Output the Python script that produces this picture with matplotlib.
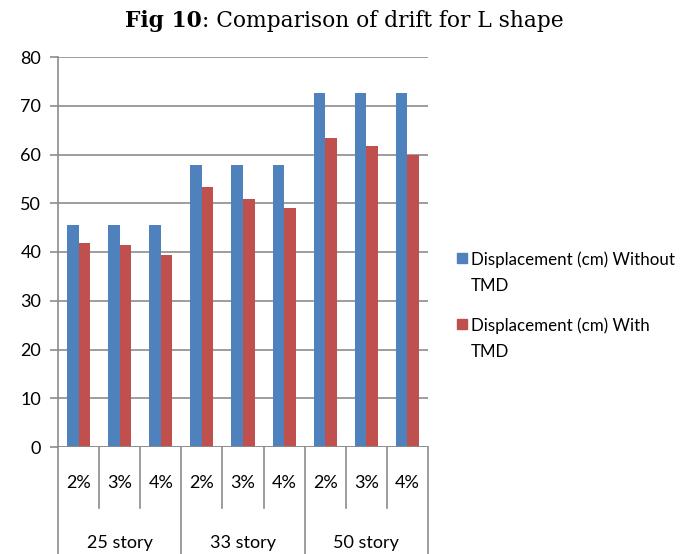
import numpy as np
import matplotlib.pyplot as plt
from matplotlib.patches import Rectangle
from matplotlib.transforms import blended_transform_factory

# drift values (cm) per story group / damping ratio
groups = ["25 story", "33 story", "50 story"]
ratios = ["2%", "3%", "4%"]
without_tmd = [45.5, 45.5, 45.5, 57.8, 57.8, 57.8, 72.7, 72.7, 72.7]
with_tmd = [41.8, 41.5, 39.4, 53.4, 50.9, 49.1, 63.3, 61.7, 60.0]
series_names = ["Displacement (cm) Without\nTMD", "Displacement (cm) With\nTMD"]
colors = ["#4F81BD", "#C0504D"]
grid_col = "#8C8C8C"
font = ["Lato", "DejaVu Sans"]
W, H = 689, 554

fig = plt.figure(figsize=(W / 100, H / 100), dpi=100)
ax = fig.add_axes([58 / W, 1 - 447 / H, 370 / W, 390 / H])

n = len(without_tmd)
x = np.arange(n)
w = 0.28
ax.bar(x - w / 2, without_tmd, w, color=colors[0], zorder=3)
ax.bar(x + w / 2, with_tmd, w, color=colors[1], zorder=3)

ax.set_xlim(-0.5, n - 0.5)
ax.set_ylim(0, 80)
ax.set_yticks(np.arange(0, 81, 10))
ax.yaxis.grid(True, color=grid_col, linewidth=1.2)
ax.set_axisbelow(True)
for s in ["top", "right", "bottom"]:
    ax.spines[s].set_visible(False)
ax.spines["left"].set_color(grid_col)
ax.spines["left"].set_linewidth(1.2)
ax.axhline(0, color=grid_col, linewidth=1.2, zorder=4)
ax.tick_params(axis="y", length=6, width=1.2, color=grid_col, pad=6, labelsize=13)
ax.set_xticks([])
for lbl in ax.get_yticklabels():
    lbl.set_family(font)

# two-level category axis below the plot
trans = blended_transform_factory(ax.transData, ax.transAxes)
for i in range(n):
    ax.text(x[i], -0.092, ratios[i % 3], transform=trans, ha="center", va="center",
            fontsize=13, family=font)
for b in range(n + 1):
    bottom = -0.30 if b % 3 == 0 else -0.156
    ax.plot([b - 0.5, b - 0.5], [0, bottom], transform=trans, color=grid_col,
            linewidth=1.2, clip_on=False)
for g, name in enumerate(groups):
    ax.text(3 * g + 1, -0.246, name, transform=trans, ha="center", va="center",
            fontsize=13, family=font)

# legend: square swatch plus two-line label, one baseline per line
leg_base = [265, 331]
line_gap = 26
for col, name, base in zip(colors, series_names, leg_base):
    fig.patches.append(Rectangle((457 / W, 1 - (base - 2) / H), 10 / W, 10 / H,
                                 transform=fig.transFigure, color=col))
    for k, line in enumerate(name.split("\n")):
        fig.text(471 / W, 1 - (base + k * line_gap) / H, line, ha="left",
                 va="baseline", fontsize=12.2, family=font)

# title: bold prefix followed by regular text, fitted to a fixed width
title_y = 1 - 21 / H
title_w = 437
fig.canvas.draw()
r = fig.canvas.get_renderer()
t1 = fig.text(0, title_y, "Fig 10", fontsize=13, fontweight="bold",
              family="DejaVu Serif", va="center")
t2 = fig.text(0, title_y, ": Comparison of drift for L shape", fontsize=13,
              family="DejaVu Serif", va="center")
total = t1.get_window_extent(r).width + t2.get_window_extent(r).width
size = 13 * title_w / total
t1.set_fontsize(size)
t2.set_fontsize(size)
w1 = t1.get_window_extent(r).width
w2 = t2.get_window_extent(r).width
x0 = 344 - (w1 + w2) / 2
t1.set_x(x0 / W)
t2.set_x((x0 + w1) / W)

fig.savefig("out.png", dpi=100)
